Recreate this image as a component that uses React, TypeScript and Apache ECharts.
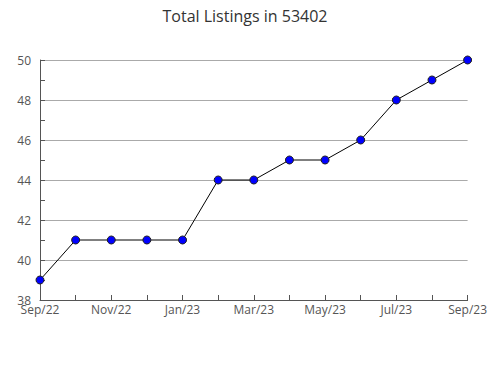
import React, { useEffect, useRef } from "react";
import * as echarts from "echarts";

const months = ["Sep/22", "Oct/22", "Nov/22", "Dec/22", "Jan/23", "Feb/23", "Mar/23", "Apr/23", "May/23", "Jun/23", "Jul/23", "Aug/23", "Sep/23"];
const listings = [39, 41, 41, 41, 41, 44, 44, 45, 45, 46, 48, 49, 50];
const titleText = "Total Listings in 53402";

export default function App() {
  const ref = useRef<HTMLDivElement>(null);
  useEffect(() => {
    if (!ref.current) return;
    const chart = echarts.init(ref.current, undefined, { renderer: "svg" });
    chart.setOption({
      animation: false,
      title: {
        text: titleText,
        left: "center",
        top: 3,
        textStyle: { fontFamily: "Open Sans", fontSize: 16, fontWeight: "normal", color: "#333" },
      },
      grid: { left: 40, right: 19, top: 60, bottom: 80, containLabel: false },
      xAxis: {
        type: "category",
        data: months,
        boundaryGap: false,
        axisLine: { lineStyle: { color: "#555" } },
        axisTick: { show: true, inside: true, length: 5, interval: 0, lineStyle: { color: "#555" } },
        axisLabel: { interval: 1, color: "#555", fontFamily: "Open Sans", fontSize: 12, margin: 3 },
        splitLine: { show: false },
      },
      yAxis: {
        type: "value",
        min: 38,
        max: 50,
        interval: 2,
        axisLine: { show: true, lineStyle: { color: "#555" } },
        axisTick: { show: true, inside: true, length: 5, lineStyle: { color: "#555" } },
        minorTick: { show: true, splitNumber: 2, length: 5, lineStyle: { color: "#555" } },
        axisLabel: { color: "#555", fontFamily: "Open Sans", fontSize: 12, margin: 9 },
        splitLine: { show: true, lineStyle: { color: "#aaa", width: 1 } },
      },
      series: [
        {
          type: "line",
          data: listings,
          symbol: "circle",
          symbolSize: 8,
          lineStyle: { color: "#000", width: 1 },
          itemStyle: { color: "#0000ff", borderColor: "#222", borderWidth: 1 },
        },
      ],
    });
    return () => chart.dispose();
  }, []);
  return <div ref={ref} style={{ width: 490, height: 380, position: "absolute", left: 0, top: 0 }} />;
}
